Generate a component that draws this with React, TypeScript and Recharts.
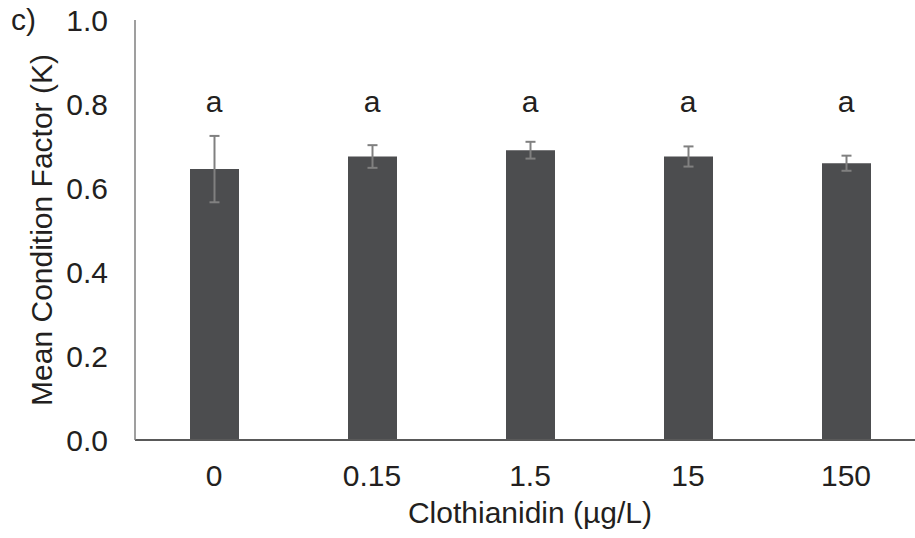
import React from 'react';
import { ComposedChart, Bar, Line, XAxis, YAxis, ErrorBar, LabelList, Label } from 'recharts';

// treatment concentrations and measured means
const concentrations = ['0', '0.15', '1.5', '15', '150'];
const meanK = [0.645, 0.675, 0.69, 0.675, 0.659];
const errK = [0.079, 0.027, 0.02, 0.024, 0.018];
const letters = ['a', 'a', 'a', 'a', 'a'];
const yTicks = [0, 0.2, 0.4, 0.6, 0.8, 1.0];

// height (in K units) where the significance letters sit
const LETTER_Y = 0.78;

const FONT = '"Liberation Sans", Arial, sans-serif';
const TEXT = '#231f20';
const FS = 30;

const data = concentrations.map((c, i) => ({
  conc: c,
  k: meanK[i],
  err: errK[i],
  letter: letters[i],
  letterY: LETTER_Y,
}));

const LetterLabel = (props: any) => {
  const { x, y, value } = props;
  return (
    <text x={x} y={y} textAnchor="middle" fontSize={FS} fontFamily={FONT} fill={TEXT}>
      {value}
    </text>
  );
};

const XTitle = (props: any) => {
  const { viewBox } = props;
  return (
    <text
      x={viewBox.x + viewBox.width / 2}
      y={viewBox.y + 83}
      textAnchor="middle"
      fontSize={FS}
      fontFamily={FONT}
      fill={TEXT}
    >
      Clothianidin (µg/L)
    </text>
  );
};

const YTitle = (props: any) => {
  const { viewBox } = props;
  const cy = viewBox.y + viewBox.height / 2;
  return (
    <text
      x={52}
      y={cy}
      transform={`rotate(-90, 52, ${cy})`}
      textAnchor="middle"
      fontSize={FS}
      fontFamily={FONT}
      fill={TEXT}
    >
      Mean Condition Factor (K)
    </text>
  );
};

export default function App() {
  return (
    <div style={{ position: 'absolute', left: 0, top: 0, width: 915, height: 538, overflow: 'hidden', background: '#fff' }}>
      <ComposedChart width={925} height={538} data={data} margin={{ top: 20, right: 0, bottom: 0, left: 0 }}>
        <XAxis
          dataKey="conc"
          height={98}
          tickLine={false}
          tickSize={0}
          tickMargin={25}
          axisLine={{ stroke: '#595959', strokeWidth: 2 }}
          tick={{ fontSize: FS, fontFamily: FONT, fill: TEXT }}
        >
          <Label content={XTitle} />
        </XAxis>
        <YAxis
          width={135}
          domain={[0, 1]}
          ticks={yTicks}
          tickFormatter={(v: number) => v.toFixed(1)}
          tickLine={false}
          tickSize={0}
          tickMargin={27}
          axisLine={{ stroke: '#7f7f7f', strokeWidth: 1.5 }}
          tick={{ fontSize: FS, fontFamily: FONT, fill: TEXT }}
        >
          <Label content={YTitle} />
        </YAxis>
        <Bar dataKey="k" fill="#4c4d4f" barSize={49} isAnimationActive={false}>
          <ErrorBar dataKey="err" width={5} stroke="#808080" strokeWidth={2} />
        </Bar>
        <Line dataKey="letterY" stroke="none" dot={false} activeDot={false} isAnimationActive={false}>
          <LabelList dataKey="letter" content={LetterLabel} />
        </Line>
        <text x={11} y={30} fontSize={FS} fontFamily={FONT} fill={TEXT}>
          c)
        </text>
      </ComposedChart>
    </div>
  );
}
